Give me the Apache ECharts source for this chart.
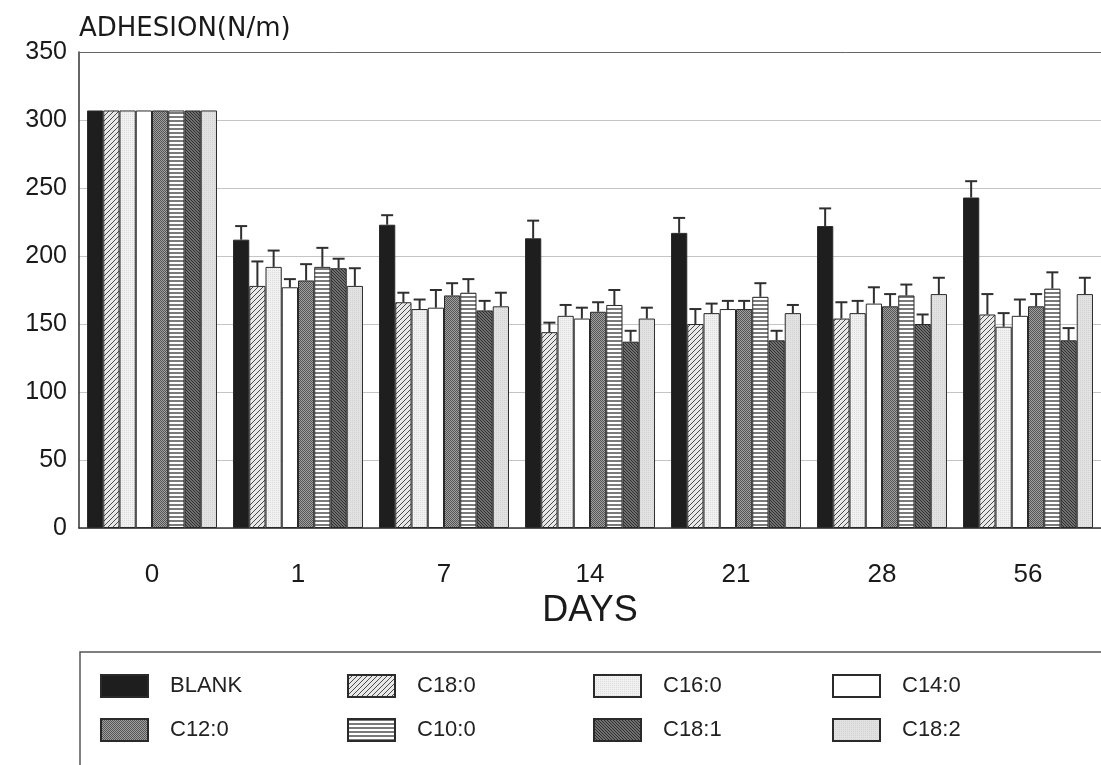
<!DOCTYPE html>
<html>
<head>
<meta charset="utf-8">
<script src="https://cdn.jsdelivr.net/npm/echarts@6/dist/echarts.min.js"></script>
<style>
html,body{margin:0;padding:0;background:#fff;}
#chart{width:1101px;height:765px;}
</style>
</head>
<body>
<div id="chart"></div>
<script>
var categories = ['0', '1', '7', '14', '21', '28', '56'];
var seriesNames = ['BLANK', 'C18:0', 'C16:0', 'C14:0', 'C12:0', 'C10:0', 'C18:1', 'C18:2'];

var blank    = [307, 212, 223, 213, 217, 222, 243];
var c18_0    = [307, 178, 166, 144, 150, 154, 157];
var c16_0    = [307, 192, 161, 156, 158, 158, 148];
var c14_0    = [307, 177, 162, 154, 161, 165, 156];
var c12_0    = [307, 182, 171, 159, 161, 163, 163];
var c10_0    = [307, 192, 173, 164, 170, 171, 176];
var c18_1    = [307, 191, 160, 137, 138, 150, 138];
var c18_2    = [307, 178, 163, 154, 158, 172, 172];

var blankErr = [0, 10, 7, 13, 11, 13, 12];
var c18_0Err = [0, 18, 7, 7, 11, 12, 15];
var c16_0Err = [0, 12, 7, 8, 7, 9, 10];
var c14_0Err = [0, 6, 13, 8, 6, 12, 12];
var c12_0Err = [0, 12, 9, 7, 6, 9, 9];
var c10_0Err = [0, 14, 10, 11, 10, 8, 12];
var c18_1Err = [0, 7, 7, 8, 7, 7, 9];
var c18_2Err = [0, 13, 10, 8, 6, 12, 12];

var yTicks = [0, 50, 100, 150, 200, 250, 300, 350];

var values = [blank, c18_0, c16_0, c14_0, c12_0, c10_0, c18_1, c18_2];
var errors = [blankErr, c18_0Err, c16_0Err, c14_0Err, c12_0Err, c10_0Err, c18_1Err, c18_2Err];

function makePattern(w, h, draw) {
  var c = document.createElement('canvas');
  c.width = w; c.height = h;
  var ctx = c.getContext('2d');
  draw(ctx, w, h);
  return { image: c, repeat: 'repeat' };
}
var fills = [
  '#1e1e1e',
  makePattern(5, 5, function (ctx, w, h) {
    ctx.fillStyle = '#e8e8e8'; ctx.fillRect(0, 0, w, h);
    ctx.strokeStyle = '#4a4a4a'; ctx.lineWidth = 1;
    ctx.beginPath();
    ctx.moveTo(-1, h + 1); ctx.lineTo(w + 1, -1);
    ctx.moveTo(-1 - w, h + 1); ctx.lineTo(1, -1);
    ctx.moveTo(w - 1, h + 1); ctx.lineTo(2 * w + 1, -1);
    ctx.stroke();
  }),
  makePattern(2, 2, function (ctx, w, h) {
    ctx.fillStyle = '#f1f1f1'; ctx.fillRect(0, 0, w, h);
    ctx.fillStyle = '#dcdcdc'; ctx.fillRect(0, 0, 1, 1);
  }),
  '#ffffff',
  makePattern(2, 2, function (ctx, w, h) {
    ctx.fillStyle = '#a0a0a0'; ctx.fillRect(0, 0, w, h);
    ctx.fillStyle = '#555555'; ctx.fillRect(0, 0, 1, 1); ctx.fillRect(1, 1, 1, 1);
  }),
  makePattern(4, 4, function (ctx, w, h) {
    ctx.fillStyle = '#ffffff'; ctx.fillRect(0, 0, w, h);
    ctx.fillStyle = '#7a7a7a'; ctx.fillRect(0, 0, w, 2);
  }),
  makePattern(3, 3, function (ctx, w, h) {
    ctx.fillStyle = '#707070'; ctx.fillRect(0, 0, w, h);
    ctx.fillStyle = '#2e2e2e';
    for (var i = 0; i < 3; i++) { ctx.fillRect(i, i, 1, 1); }
  }),
  makePattern(2, 2, function (ctx, w, h) {
    ctx.fillStyle = '#e2e2e2'; ctx.fillRect(0, 0, w, h);
    ctx.fillStyle = '#d2d2d2'; ctx.fillRect(0, 0, 1, 1);
  })
];

var GAP = 0.11;
var barSeries = seriesNames.map(function (name, i) {
  return {
    name: name,
    type: 'bar',
    data: values[i],
    barGap: '0%',
    barCategoryGap: (GAP * 100) + '%',
    itemStyle: { color: fills[i], borderColor: '#2a2a2a', borderWidth: 1 },
    emphasis: { disabled: true },
    z: 2
  };
});

var errData = [];
for (var s = 0; s < seriesNames.length; s++) {
  for (var c = 0; c < categories.length; c++) {
    if (errors[s][c] > 0) errData.push([c, s, values[s][c], errors[s][c]]);
  }
}

var errSeries = {
  type: 'custom',
  name: 'err',
  data: errData,
  z: 5,
  silent: true,
  renderItem: function (params, api) {
    var ci = api.value(0), si = api.value(1), v = api.value(2), e = api.value(3);
    var band = api.size([1, 0])[0];
    var gw = band * (1 - GAP);
    var bw = gw / seriesNames.length;
    var base = api.coord([ci, v]);
    var x = base[0] - gw / 2 + bw * (si + 0.5);
    var yTop = api.coord([ci, v + e])[1];
    var half = 6;
    var st = { stroke: '#2f2f2f', lineWidth: 2 };
    return {
      type: 'group',
      children: [
        { type: 'line', shape: { x1: x, y1: base[1], x2: x, y2: yTop }, style: st },
        { type: 'line', shape: { x1: x - half, y1: yTop, x2: x + half, y2: yTop }, style: st }
      ]
    };
  }
};

var legendPos = [
  [95, 669], [342, 669], [588, 669], [827, 669],
  [95, 713], [342, 713], [588, 713], [827, 713]
];
var legends = seriesNames.map(function (name, i) {
  return {
    data: [name],
    left: legendPos[i][0],
    top: legendPos[i][1],
    icon: 'rect',
    itemWidth: 47,
    itemHeight: 22,
    selectedMode: false,
    textStyle: { fontFamily: 'Liberation Sans, Arial', fontSize: 22, color: '#222', padding: [0, 0, 0, 17] }
  };
});

var chart = echarts.init(document.getElementById('chart'), null, { renderer: 'canvas' });
chart.setOption({
  animation: false,
  backgroundColor: '#ffffff',
  legend: legends,
  grid: { left: 79, top: 52, width: 1036, height: 476, containLabel: false },
  xAxis: [{
    type: 'category',
    data: categories,
    name: 'DAYS',
    nameLocation: 'middle',
    nameGap: 60,
    nameTextStyle: { fontFamily: 'Liberation Sans, Arial', fontSize: 36, color: '#1a1a1a', verticalAlign: 'top' },
    axisLine: { lineStyle: { color: '#333', width: 1.5 } },
    axisTick: { show: false },
    axisLabel: { fontFamily: 'Liberation Sans, Arial', fontSize: 26, color: '#1a1a1a', margin: 34 }
  }, {
    type: 'category',
    data: categories,
    position: 'top',
    axisLine: { lineStyle: { color: '#666', width: 1 } },
    axisTick: { show: false },
    axisLabel: { show: false }
  }],
  yAxis: {
    type: 'value',
    min: yTicks[0],
    max: yTicks[yTicks.length - 1],
    interval: 50,
    name: 'ADHESION(N/m)',
    nameLocation: 'end',
    nameGap: 10,
    nameTextStyle: { fontFamily: 'DejaVu Sans, Liberation Sans', fontSize: 26, color: '#1a1a1a', align: 'left', verticalAlign: 'bottom' },
    axisLine: { show: true, lineStyle: { color: '#333', width: 1.5 } },
    axisTick: { show: false },
    axisLabel: { fontFamily: 'Liberation Sans, Arial', fontSize: 25, color: '#1a1a1a', margin: 12 },
    splitLine: { show: true, lineStyle: { color: '#c4c4c4', width: 1 } }
  },
  graphic: [{
    type: 'rect',
    shape: { x: 80, y: 652, width: 1040, height: 140 },
    style: { fill: 'none', stroke: '#555', lineWidth: 1.5 },
    silent: true
  }],
  series: barSeries.concat([errSeries])
});
</script>
</body>
</html>
